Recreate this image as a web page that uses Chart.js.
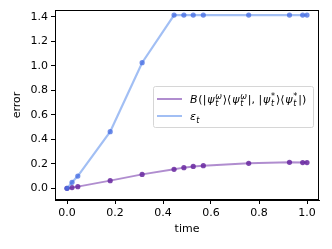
<!DOCTYPE html>
<html>
<head>
<meta charset="utf-8">
<script src="https://cdn.jsdelivr.net/npm/chart.js@4"></script>
<style>
  html, body { margin: 0; padding: 0; background: #fff; }
  canvas { display: block; }
</style>
</head>
<body>
<canvas id="myChart" width="332" height="249"></canvas>
<script>
'use strict';
// data
const times = [0, 0.021, 0.045, 0.18, 0.313, 0.446, 0.487, 0.526, 0.568, 0.757, 0.927, 0.982, 1.0];
const bValues = [0, 0.006, 0.014, 0.063, 0.114, 0.155, 0.169, 0.179, 0.185, 0.204, 0.212, 0.21, 0.21];
const epsValues = [0, 0.049, 0.10, 0.462, 1.025, 1.414, 1.414, 1.414, 1.414, 1.414, 1.414, 1.414, 1.414];
const xTicks = [0, 0.2, 0.4, 0.6, 0.8, 1.0];
const yTicks = [0, 0.2, 0.4, 0.6, 0.8, 1.0, 1.2, 1.4];

// legend labels (mathtext pieces)
const labelB = [
  {t: 'B', it: true}, {t: '(|'}, {t: 'ψ', it: true}, {sub: 't', sup: 'ω'}, {t: '⟩⟨'},
  {t: 'ψ', it: true}, {sub: 't', sup: 'ω'}, {t: '|, |'}, {t: 'ψ', it: true}, {sub: 't', sup: '*'},
  {t: '⟩⟨'}, {t: 'ψ', it: true}, {sub: 't', sup: '*'}, {t: '|)'}
];
const labelEps = [{t: 'ε', it: true}, {sub: 't'}];

const purpleLine = 'rgba(112,48,168,0.55)';
const purpleDot = 'rgba(104,40,160,0.85)';
const blueLine = 'rgba(100,149,237,0.6)';
const blueDot = 'rgba(65,105,225,0.75)';
const FONT = '"DejaVu Sans", sans-serif';

function toPoints(xs, ys) {
  return xs.map((x, i) => ({x: x, y: ys[i]}));
}

// width of one piece
function runWidth(ctx, r) {
  if (r.t) {
    ctx.font = (r.it ? 'italic ' : '') + '11px ' + FONT;
    return ctx.measureText(r.t).width;
  }
  let w = 0;
  ctx.font = 'italic 8px ' + FONT;
  if (r.sub) w = ctx.measureText(r.sub).width;
  if (r.sup) w = Math.max(w, ctx.measureText(r.sup).width);
  return w;
}

function drawRuns(ctx, runs, x, y, target) {
  ctx.fillStyle = '#000';
  ctx.textBaseline = 'alphabetic';
  ctx.textAlign = 'left';
  let extra = 0.3;
  if (target) {
    const natural = runs.reduce((s, r) => s + runWidth(ctx, r), 0);
    extra = Math.max(0, (target - natural) / runs.length);
  }
  runs.forEach(r => {
    if (r.t) {
      ctx.font = (r.it ? 'italic ' : '') + '11px ' + FONT;
      ctx.fillText(r.t, x, y);
    } else {
      if (r.sub) {
        ctx.font = 'italic 8px ' + FONT;
        ctx.fillText(r.sub, x, y + 2.5);
      }
      if (r.sup) {
        ctx.font = (r.sup === '*' ? '' : 'italic ') + '8px ' + FONT;
        ctx.fillText(r.sup, x, y - 4.5);
      }
    }
    x += runWidth(ctx, r) + extra;
  });
}

const framePlugin = {
  id: 'frame',
  afterDraw(chart) {
    const ctx = chart.ctx;
    const a = chart.chartArea;
    ctx.save();
    ctx.strokeStyle = '#000';
    ctx.lineWidth = 1;
    ctx.strokeRect(a.left + 0.5, a.top + 0.5, a.right - a.left - 1, a.bottom - a.top - 1);

    // legend box
    const bx = 153, by = 86, bw = 160, bh = 41;
    ctx.beginPath();
    ctx.roundRect(bx + 0.5, by + 0.5, bw, bh, 2);
    ctx.fillStyle = 'rgba(255,255,255,0.8)';
    ctx.fill();
    ctx.strokeStyle = '#d6d6d6';
    ctx.stroke();

    const rows = [
      {y: 99, color: purpleLine, runs: labelB, w: 117},
      {y: 116, color: blueLine, runs: labelEps, w: 0}
    ];
    rows.forEach(row => {
      ctx.beginPath();
      ctx.moveTo(157, row.y);
      ctx.lineTo(182, row.y);
      ctx.strokeStyle = row.color;
      ctx.lineWidth = 2;
      ctx.stroke();
      drawRuns(ctx, row.runs, 190, row.y + 4, row.w);
    });
    ctx.restore();
  }
};

const ctx = document.getElementById('myChart').getContext('2d');
const chart = new Chart(ctx, {
  type: 'line',
  data: {
    datasets: [
      {
        label: 'B',
        data: toPoints(times, bValues),
        borderColor: purpleLine,
        backgroundColor: purpleDot,
        pointBackgroundColor: purpleDot,
        pointBorderWidth: 0,
        pointRadius: 2.6,
        borderWidth: 2,
        tension: 0,
        order: 1
      },
      {
        label: 'eps',
        data: toPoints(times, epsValues),
        borderColor: blueLine,
        backgroundColor: blueDot,
        pointBackgroundColor: blueDot,
        pointBorderWidth: 0,
        pointRadius: 2.6,
        borderWidth: 2.2,
        tension: 0,
        order: 0
      }
    ]
  },
  options: {
    responsive: false,
    animation: false,
    events: [],
    layout: {padding: {left: 11, top: 10, right: 13, bottom: 13}},
    plugins: {legend: {display: false}, tooltip: {enabled: false}},
    scales: {
      x: {
        type: 'linear',
        min: -0.05,
        max: 1.05,
        afterBuildTicks: s => { s.ticks = xTicks.map(v => ({value: v})); },
        afterFit: s => { s.height = 36; },
        grid: {drawOnChartArea: false, drawTicks: true, tickLength: 4, color: '#000'},
        border: {display: true, color: '#000', width: 1},
        ticks: {
          color: '#000',
          padding: 3,
          maxRotation: 0,
          font: {family: FONT, size: 11},
          callback: v => v.toFixed(1)
        },
        title: {display: true, text: 'time', color: '#000', padding: 0, font: {family: FONT, size: 11}}
      },
      y: {
        type: 'linear',
        min: -0.095,
        max: 1.455,
        afterBuildTicks: s => { s.ticks = yTicks.map(v => ({value: v})); },
        afterFit: s => { s.width = 44; },
        grid: {drawOnChartArea: false, drawTicks: true, tickLength: 4, color: '#000'},
        border: {display: true, color: '#000', width: 1},
        ticks: {
          color: '#000',
          padding: 3,
          font: {family: FONT, size: 11},
          callback: v => v.toFixed(1)
        },
        title: {display: true, text: 'error', color: '#000', padding: 0, font: {family: FONT, size: 11}}
      }
    }
  },
  plugins: [framePlugin]
});
</script>
</body>
</html>
